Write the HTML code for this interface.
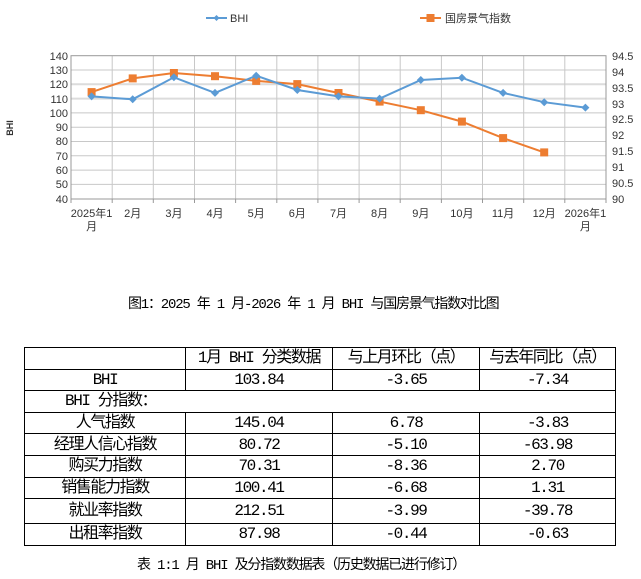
<!DOCTYPE html>
<html><head><meta charset="utf-8"><style>
body{margin:0;width:641px;height:579px;background:#fff;position:relative;overflow:hidden}
svg{position:absolute;left:0;top:0}
.cap{position:absolute;font-family:"Liberation Mono","Noto Sans CJK SC",sans-serif;font-size:14px;color:#000;white-space:nowrap;letter-spacing:-1.2px}
table{position:absolute;left:24px;top:347px;border-collapse:collapse;font-family:"Liberation Mono","Noto Sans CJK SC",sans-serif;font-size:16px;letter-spacing:-1.4px;color:#000}
td{border:1.5px solid #000;padding:0;text-align:center;height:20.6px;line-height:20px;white-space:nowrap}
</style></head><body>
<svg width="641" height="260" font-family="Liberation Sans, Noto Sans CJK SC, sans-serif">
<g stroke="#c8c8c8" stroke-width="1">
<line x1="71" x2="606" y1="70" y2="70"/><line x1="71" x2="606" y1="84.3" y2="84.3" stroke="#dcdcdc" stroke-width="2"/><line x1="71" x2="606" y1="98.6" y2="98.6" stroke="#dcdcdc" stroke-width="2"/>
<line x1="71" x2="606" y1="112.9" y2="112.9"/><line x1="71" x2="606" y1="127.2" y2="127.2"/><line x1="71" x2="606" y1="141.5" y2="141.5"/><line x1="71" x2="606" y1="155.8" y2="155.8"/><line x1="71" x2="606" y1="170.1" y2="170.1"/><line x1="71" x2="606" y1="184.4" y2="184.4"/>
<line x1="112.2" x2="112.2" y1="56" y2="199"/><line x1="153.3" x2="153.3" y1="56" y2="199"/><line x1="194.5" x2="194.5" y1="56" y2="199"/><line x1="235.6" x2="235.6" y1="56" y2="199"/><line x1="276.8" x2="276.8" y1="56" y2="199"/><line x1="317.9" x2="317.9" y1="56" y2="199"/><line x1="359.1" x2="359.1" y1="56" y2="199"/><line x1="400.2" x2="400.2" y1="56" y2="199"/><line x1="441.4" x2="441.4" y1="56" y2="199"/><line x1="482.5" x2="482.5" y1="56" y2="199"/><line x1="523.7" x2="523.7" y1="56" y2="199"/><line x1="564.8" x2="564.8" y1="56" y2="199"/>
</g>
<g stroke="#999" stroke-width="1" fill="none">
<rect x="71" y="55.7" width="535" height="143.3"/>
<path d="M71 199v4M112.2 199v4M153.3 199v4M194.5 199v4M235.6 199v4M276.8 199v4M317.9 199v4M359.1 199v4M400.2 199v4M441.4 199v4M482.5 199v4M523.7 199v4M564.8 199v4M606 199v4"/>
</g>
<g font-size="11" fill="#333" text-anchor="end">
<text x="68" y="60">140</text><text x="68" y="74">130</text><text x="68" y="88">120</text><text x="68" y="103">110</text><text x="68" y="117">100</text><text x="68" y="131">90</text><text x="68" y="145">80</text><text x="68" y="160">70</text><text x="68" y="174">60</text><text x="68" y="188">50</text><text x="68" y="203">40</text>
</g>
<g font-size="11" fill="#333">
<text x="612" y="60">94.5</text><text x="612" y="76">94</text><text x="612" y="92">93.5</text><text x="612" y="108">93</text><text x="612" y="123">92.5</text><text x="612" y="139">92</text><text x="612" y="155">91.5</text><text x="612" y="171">91</text><text x="612" y="187">90.5</text><text x="612" y="203">90</text>
</g>
<text x="13" y="128" font-size="9" font-weight="bold" fill="#333" transform="rotate(-90 13 128)" text-anchor="middle">BHI</text>
<g font-size="11" fill="#333" text-anchor="middle">
<text x="91.6" y="217">2025年1</text><text x="91.6" y="230">月</text>
<text x="132.7" y="217">2月</text><text x="173.9" y="217">3月</text><text x="215" y="217">4月</text><text x="256.2" y="217">5月</text><text x="297.3" y="217">6月</text><text x="338.5" y="217">7月</text><text x="379.6" y="217">8月</text><text x="420.8" y="217">9月</text><text x="461.9" y="217">10月</text><text x="503.1" y="217">11月</text><text x="544.2" y="217">12月</text>
<text x="585.4" y="217">2026年1</text><text x="585.4" y="230">月</text>
</g>
<polyline fill="none" stroke="#ED7D31" stroke-width="2" points="91.6,92.1 132.7,78.4 173.9,73.0 215,76.2 256.2,80.9 297.3,84.1 338.5,93.0 379.6,101.6 420.8,110.2 461.9,121.6 503.1,138.1 544.2,152.4"/>
<g fill="#ED7D31">
<rect x="87.6" y="88.1" width="8" height="8"/><rect x="128.7" y="74.4" width="8" height="8"/><rect x="169.9" y="69" width="8" height="8"/><rect x="211" y="72.2" width="8" height="8"/><rect x="252.2" y="76.9" width="8" height="8"/><rect x="293.3" y="80.1" width="8" height="8"/><rect x="334.5" y="89" width="8" height="8"/><rect x="375.6" y="97.6" width="8" height="8"/><rect x="416.8" y="106.2" width="8" height="8"/><rect x="457.9" y="117.6" width="8" height="8"/><rect x="499.1" y="134.1" width="8" height="8"/><rect x="540.2" y="148.4" width="8" height="8"/>
</g>
<polyline fill="none" stroke="#5B9BD5" stroke-width="2" points="91.6,96.4 132.7,99.3 173.9,77.3 215,92.9 256.2,75.7 297.3,90.0 338.5,96.4 379.6,98.6 420.8,80.0 461.9,77.7 503.1,92.9 544.2,102.2 585.4,107.6"/>
<g fill="#5B9BD5">
<path d="M91.6 92.4l4 4-4 4-4-4zM132.7 95.3l4 4-4 4-4-4zM173.9 73.3l4 4-4 4-4-4zM215 88.9l4 4-4 4-4-4zM256.2 71.7l4 4-4 4-4-4zM297.3 86l4 4-4 4-4-4zM338.5 92.4l4 4-4 4-4-4zM379.6 94.6l4 4-4 4-4-4zM420.8 76l4 4-4 4-4-4zM461.9 73.7l4 4-4 4-4-4zM503.1 88.9l4 4-4 4-4-4zM544.2 98.2l4 4-4 4-4-4zM585.4 103.6l4 4-4 4-4-4z"/>
</g>
<line x1="206" x2="227" y1="18" y2="18" stroke="#5B9BD5" stroke-width="2"/><path d="M216.5 15l3 3-3 3-3-3z" fill="#5B9BD5"/>
<text x="230" y="22" font-size="11" fill="#333">BHI</text>
<line x1="420" x2="441" y1="18" y2="18" stroke="#ED7D31" stroke-width="2"/><rect x="426.5" y="14" width="8" height="8" fill="#ED7D31"/>
<text x="445" y="22" font-size="11" fill="#333">国房景气指数</text>
</svg>
<div class="cap" style="left:128px;top:293px">图1：2025 年 1 月-2026 年 1 月 BHI 与国房景气指数对比图</div>
<table>
<tr><td style="width:160px"></td><td style="width:146px">1月 BHI 分类数据</td><td style="width:146px">与上月环比（点）</td><td style="width:135px">与去年同比（点）</td></tr>
<tr><td>BHI</td><td>103.84</td><td>-3.65</td><td>-7.34</td></tr>
<tr><td colspan="4" style="text-align:left;padding-left:40px">BHI 分指数：</td></tr>
<tr><td>人气指数</td><td>145.04</td><td>6.78</td><td>-3.83</td></tr>
<tr><td>经理人信心指数</td><td>80.72</td><td>-5.10</td><td>-63.98</td></tr>
<tr><td>购买力指数</td><td>70.31</td><td>-8.36</td><td>2.70</td></tr>
<tr><td>销售能力指数</td><td>100.41</td><td>-6.68</td><td>1.31</td></tr>
<tr><td style="height:24px">就业率指数</td><td>212.51</td><td>-3.99</td><td>-39.78</td></tr>
<tr><td>出租率指数</td><td>87.98</td><td>-0.44</td><td>-0.63</td></tr>
</table>
<div class="cap" style="left:137px;top:554px">表 1:1 月 BHI 及分指数数据表（历史数据已进行修订）</div>
</body></html>
